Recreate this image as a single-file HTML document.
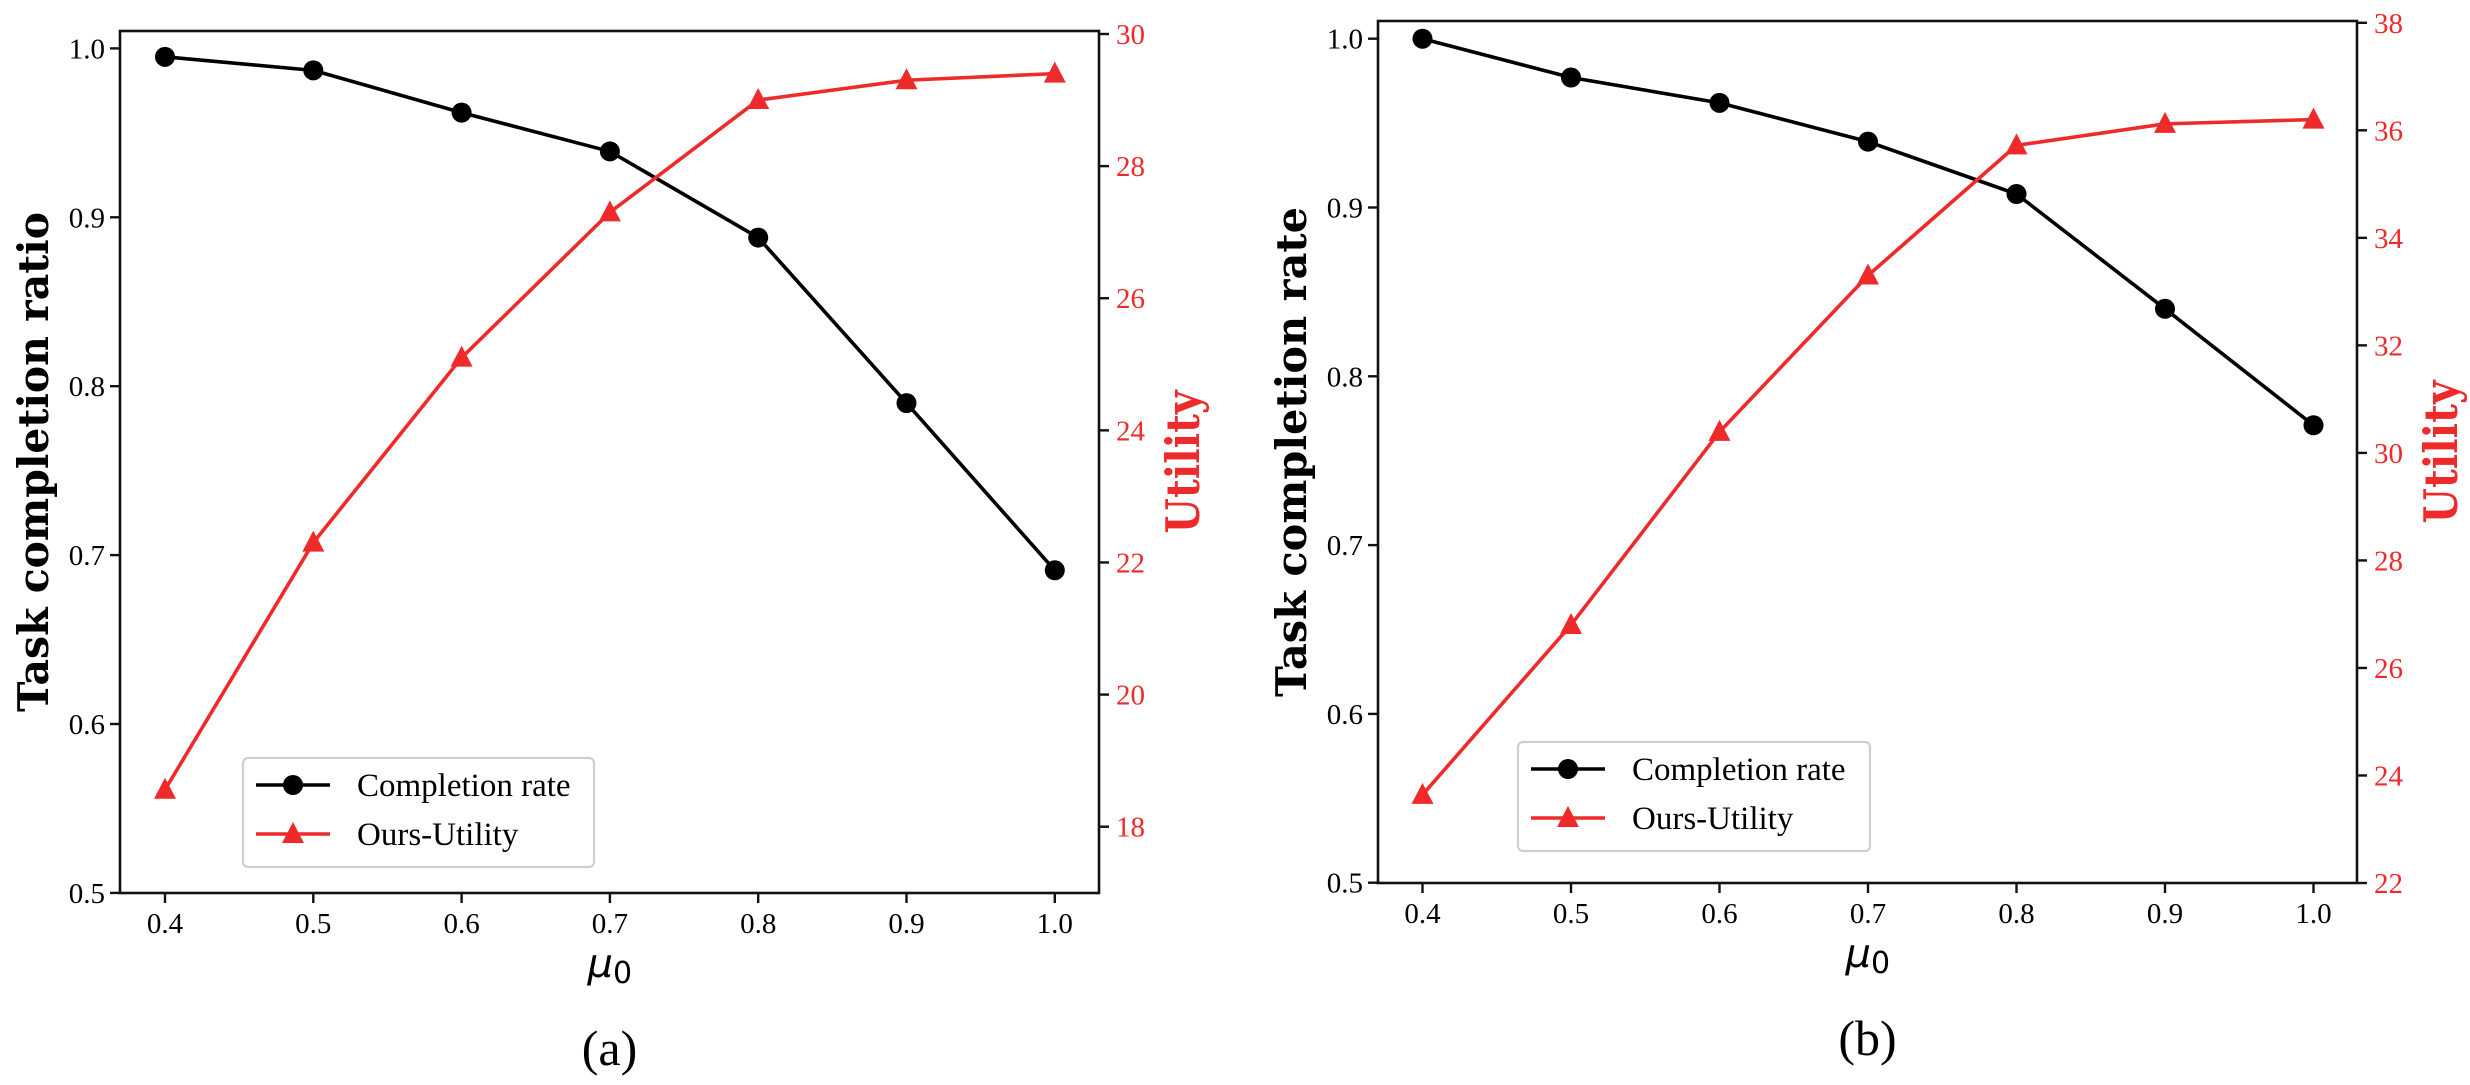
<!DOCTYPE html>
<html><head><meta charset="utf-8"><style>
html,body{margin:0;padding:0;background:#fff;width:2470px;height:1085px;overflow:hidden}
svg{display:block}
.tk{font-family:"Liberation Serif",serif;font-size:29px}
</style></head><body>
<svg id="fig" width="2470" height="1085" viewBox="0 0 2470 1085" xmlns="http://www.w3.org/2000/svg"></svg>
<script>
const xCats = [0.4, 0.5, 0.6, 0.7, 0.8, 0.9, 1.0];
const xTickLabels = ["0.4","0.5","0.6","0.7","0.8","0.9","1.0"];
const aCompletion = [0.995, 0.987, 0.962, 0.939, 0.888, 0.790, 0.691];
const aUtility = [18.56, 22.3, 25.1, 27.3, 29.0, 29.3, 29.4];
const aLeftTicks = [0.5, 0.6, 0.7, 0.8, 0.9, 1.0];
const aLeftTickLabels = ["0.5","0.6","0.7","0.8","0.9","1.0"];
const aRightTicks = [18, 20, 22, 24, 26, 28, 30];
const aRightTickLabels = ["18","20","22","24","26","28","30"];
const bCompletion = [1.0, 0.977, 0.962, 0.939, 0.908, 0.840, 0.771];
const bUtility = [23.64, 26.8, 30.39, 33.3, 35.72, 36.12, 36.2];
const bLeftTicks = [0.5, 0.6, 0.7, 0.8, 0.9, 1.0];
const bLeftTickLabels = ["0.5","0.6","0.7","0.8","0.9","1.0"];
const bRightTicks = [22, 24, 26, 28, 30, 32, 34, 36, 38];
const bRightTickLabels = ["22","24","26","28","30","32","34","36","38"];

const NS = "http://www.w3.org/2000/svg";
const svg = document.getElementById("fig");
function mk(tag, attrs, parent, text){
  const e = document.createElementNS(NS, tag);
  for (const k in attrs) e.setAttribute(k, attrs[k]);
  if (text !== undefined) e.textContent = text;
  (parent || svg).appendChild(e);
  return e;
}
const RED = "#ee2a2a";

function drawPanel(cfg){
  const g = mk("g", {});
  
  
  const xS = v => cfg.x04 + (v - 0.4) / 0.1 * cfg.xStep;
  const yL = v => cfg.yL1 + (1.0 - v) / 0.1 * cfg.yLStep;
  const yR = v => cfg.yRtop + (cfg.rTop - v) / (cfg.rTop - cfg.rBot) * (cfg.yRbot - cfg.yRtop);

  const fr = mk("rect", {x: cfg.left, y: cfg.top, width: cfg.right - cfg.left, height: cfg.bottom - cfg.top, fill: "none", stroke: "#111", "stroke-width": 2.6}, g);
  
  

  xCats.forEach((c, i) => {
    const x = xS(c);
    const t = mk("line", {x1: x, x2: x, y1: cfg.bottom, y2: cfg.bottom + 10, stroke: "#111", "stroke-width": 2.4}, g);
    
    
    const l = mk("text", {x: x, y: cfg.bottom + 40, "text-anchor": "middle", class: "tk"}, g, xTickLabels[i]);
    
    
  });
  cfg.lTicks.forEach((v, i) => {
    const y = yL(v);
    const t = mk("line", {x1: cfg.left - 10, x2: cfg.left, y1: y, y2: y, stroke: "#111", "stroke-width": 2.4}, g);
    
    
    const l = mk("text", {x: cfg.left - 15, y: y + 10, "text-anchor": "end", class: "tk"}, g, cfg.lLabels[i]);
    
    
  });
  cfg.rTicks.forEach((v, i) => {
    const y = yR(v);
    const t = mk("line", {x1: cfg.right, x2: cfg.right + 10, y1: y, y2: y, stroke: "#111", "stroke-width": 2.4}, g);
    
    
    const l = mk("text", {x: cfg.right + 17, y: y + 10, "text-anchor": "start", class: "tk", fill: RED}, g, cfg.rLabels[i]);
    
    
  });

  const bp = cfg.comp.map((v, i) => xS(xCats[i]) + "," + yL(v)).join(" ");
  const bl = mk("polyline", {points: bp, fill: "none", stroke: "#000", "stroke-width": 3.6, "stroke-linejoin": "round"}, g);
  
  
  cfg.comp.forEach((v, i) => {
    const c = mk("circle", {cx: xS(xCats[i]), cy: yL(v), r: 10, fill: "#000"}, g);
    
    
  });
  const rp = cfg.util.map((v, i) => xS(xCats[i]) + "," + yR(v)).join(" ");
  const rl = mk("polyline", {points: rp, fill: "none", stroke: RED, "stroke-width": 3.6, "stroke-linejoin": "round"}, g);
  
  
  cfg.util.forEach((v, i) => {
    const x = xS(xCats[i]), y = yR(v);
    const p = mk("polygon", {points: `${x},${y-12} ${x-11},${y+9} ${x+11},${y+9}`, fill: RED}, g);
    
    
  });

  const L = cfg.legend;
  const lg = mk("g", {}, g);
  
  
  mk("rect", {x: L.x, y: L.y, width: L.w, height: L.h, rx: 5, fill: "#fff", stroke: "#cfcfcf", "stroke-width": 2.2}, lg);
  const r1 = L.y + 27, r2 = L.y + 76;
  const e1 = mk("g", {}, lg);
  
  
  mk("line", {x1: L.x + 13, x2: L.x + 87, y1: r1, y2: r1, stroke: "#000", "stroke-width": 3.6}, e1);
  mk("circle", {cx: L.x + 50, cy: r1, r: 10, fill: "#000"}, e1);
  mk("text", {x: L.x + 114, y: r1 + 11, "font-family": "Liberation Serif, serif", "font-size": 33}, e1, "Completion rate");
  const e2 = mk("g", {}, lg);
  
  
  mk("line", {x1: L.x + 13, x2: L.x + 87, y1: r2, y2: r2, stroke: RED, "stroke-width": 3.6}, e2);
  mk("polygon", {points: `${L.x+50},${r2-12} ${L.x+39},${r2+9} ${L.x+61},${r2+9}`, fill: RED}, e2);
  mk("text", {x: L.x + 114, y: r2 + 11, "font-family": "Liberation Serif, serif", "font-size": 33}, e2, "Ours-Utility");

  const cy = (cfg.top + cfg.bottom) / 2, cx = (cfg.left + cfg.right) / 2;
  const yt = mk("text", {x: 0, y: 0, transform: `translate(${cfg.left - 72},${cy}) rotate(-90)`, "text-anchor": "middle", "font-family": "DejaVu Serif, serif", "font-weight": "bold", "font-size": 42, textLength: cfg.ylLen, lengthAdjust: "spacingAndGlyphs"}, g, cfg.ylabel);
  
  
  const ut = mk("text", {x: 0, y: 0, transform: `translate(${cfg.right + 100},${cy}) rotate(-90)`, "text-anchor": "middle", "font-family": "DejaVu Serif, serif", "font-weight": "bold", "font-size": 46, fill: RED, textLength: 143, lengthAdjust: "spacingAndGlyphs"}, g, "Utility");
  
  
  const xt = mk("text", {x: cx - 22, y: cfg.bottom + 84, "font-family": "DejaVu Sans, sans-serif", "font-style": "italic", "font-size": 40}, g, "μ");
  mk("tspan", {"font-style": "normal", "font-size": 30, dy: 6}, xt, "0");
  
  
  const cap = mk("text", {x: cx, y: cfg.bottom + 172, "text-anchor": "middle", "font-family": "Liberation Serif, serif", "font-size": 50}, g, cfg.caption);
  
  
}

drawPanel({id: "panel-a", left: 120, right: 1099, top: 31, bottom: 893,
  x04: 165, xStep: 148.3, yL1: 48.4, yLStep: 168.9,
  rTop: 30, rBot: 18, yRtop: 34, yRbot: 826.7,
  lTicks: aLeftTicks, lLabels: aLeftTickLabels, rTicks: aRightTicks, rLabels: aRightTickLabels,
  comp: aCompletion, util: aUtility, ylabel: "Task completion ratio", ylLen: 500,
  legend: {x: 243, y: 758, w: 351, h: 109}, caption: "(a)"});

drawPanel({id: "panel-b", left: 1378, right: 2357, top: 21, bottom: 883,
  x04: 1422.5, xStep: 148.5, yL1: 38.7, yLStep: 168.8,
  rTop: 38, rBot: 22, yRtop: 22.8, yRbot: 883,
  lTicks: bLeftTicks, lLabels: bLeftTickLabels, rTicks: bRightTicks, rLabels: bRightTickLabels,
  comp: bCompletion, util: bUtility, ylabel: "Task completion rate", ylLen: 490,
  legend: {x: 1518, y: 742, w: 352, h: 109}, caption: "(b)"});
</script>
</body></html>
